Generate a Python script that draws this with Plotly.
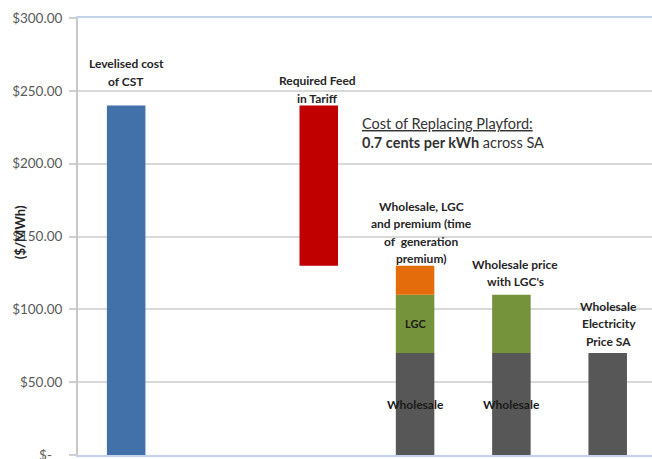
import plotly.graph_objects as go

# ---- data ($/MWh) ----
# category slots along the x axis (slot 1 is left empty as a spacer)
slot_cst = [0]
slot_fit = [2]
slot_wholesale = [3, 4, 5]
slot_lgc = [3, 4]
slot_premium = [3]

lcoe_cst = [240]
fit_low = [130]
fit_high = [240]
wholesale = [70, 70, 70]
lgc = [40, 40]
premium = [20]

tick_vals = [0, 50, 100, 150, 200, 250, 300]
tick_text = ["$-   ", "$50.00", "$100.00", "$150.00", "$200.00", "$250.00", "$300.00"]

# labels above each column (one entry per line)
top_slots = [0, 2, 3, 4, 5]
top_lines = [
    ["Levelised cost", "of CST"],
    ["Required Feed", "in Tariff"],
    ["Wholesale, LGC", "and premium (time", "of  generation", "premium)"],
    ["Wholesale price", "with LGC's"],
    ["Wholesale", "Electricity", "Price SA"],
]
top_values = [lcoe_cst[0], fit_high[0],
              wholesale[0] + lgc[0] + premium[0],
              wholesale[1] + lgc[1], wholesale[2]]
# vertical gap (px) between column top and the last label line, horizontal nudge (px)
top_gap = [24, 7, 7, 13, 12]
top_nudge = [0, -1, 6, 4, 1]
LINE_PX = 17.5

FONT = "Lato"
BAR_W = 0.4

fig = go.Figure()

fig.add_trace(go.Bar(x=slot_cst, y=lcoe_cst, width=BAR_W,
                     marker=dict(color="#4270a8", line=dict(width=0)),
                     name="Levelised cost of CST"))
fig.add_trace(go.Bar(x=slot_fit, y=[h - l for h, l in zip(fit_high, fit_low)],
                     base=fit_low, width=BAR_W,
                     marker=dict(color="#c00000", line=dict(width=0)),
                     name="Required Feed in Tariff"))
fig.add_trace(go.Bar(x=slot_wholesale, y=wholesale, width=BAR_W,
                     marker=dict(color="#575757", line=dict(width=0)),
                     name="Wholesale"))
fig.add_trace(go.Bar(x=slot_lgc, y=lgc, base=wholesale[:len(lgc)], width=BAR_W,
                     marker=dict(color="#74933a", line=dict(width=0)),
                     name="LGC"))
fig.add_trace(go.Bar(x=slot_premium, y=premium,
                     base=[w + g for w, g in zip(wholesale[:1], lgc[:1])], width=BAR_W,
                     marker=dict(color="#e46c0a", line=dict(width=0)),
                     name="Premium"))

annotations = []

# multi-line column labels
for slot, lines, val, gap, nudge in zip(top_slots, top_lines, top_values, top_gap, top_nudge):
    n = len(lines)
    for i, line in enumerate(lines):
        annotations.append(dict(
            x=slot, y=val, xref="x", yref="y", text="<b>%s</b>" % line,
            showarrow=False, xanchor="center", yanchor="middle",
            yshift=gap + (n - 1 - i) * LINE_PX, xshift=nudge,
            font=dict(family=FONT, size=12, color="#262626")))

# segment labels inside the stacked columns
annotations.append(dict(
    x=slot_lgc[0], y=wholesale[0] + lgc[0] / 2, xref="x", yref="y",
    text="<b>LGC</b>", showarrow=False,
    font=dict(family=FONT, size=11, color="#1a1a1a")))
for s, w in zip(slot_wholesale[:2], wholesale[:2]):
    annotations.append(dict(
        x=s, y=w / 2, xref="x", yref="y", text="<b>Wholesale</b>", showarrow=False,
        font=dict(family=FONT, size=12, color="#1a1a1a")))

# callout text
annotations.append(dict(
    x=2.43, y=227.5, xref="x", yref="y", xanchor="left", yanchor="middle",
    text="<u>Cost of Replacing Playford:</u>", showarrow=False,
    font=dict(family=FONT, size=14.5, color="#333333")))
annotations.append(dict(
    x=2.43, y=214.3, xref="x", yref="y", xanchor="left", yanchor="middle",
    text="<b>0.7 cents per kWh</b> across SA", showarrow=False,
    font=dict(family=FONT, size=14.5, color="#333333")))

# axis title
annotations.append(dict(
    x=-0.101, y=0.51, xref="paper", yref="paper", text="<b>($/MWh)</b>",
    textangle=-90, showarrow=False, xanchor="center", yanchor="middle",
    font=dict(family=FONT, size=13, color="#262626")))

fig.update_layout(
    width=652, height=459,
    margin=dict(l=78, r=0, t=18, b=4, autoexpand=False),
    paper_bgcolor="white", plot_bgcolor="white",
    barmode="overlay", showlegend=False,
    annotations=annotations,
    font=dict(family=FONT, size=13, color="#595959"),
)
fig.update_xaxes(range=[-0.5, 5.46], showticklabels=False, ticks="",
                 showgrid=False, zeroline=False, automargin=False,
                 showline=True, mirror=True, linecolor="#c3d4ea", linewidth=2)
fig.update_yaxes(range=[0, 300], tickvals=tick_vals, ticktext=tick_text,
                 showgrid=True, gridcolor="#d9d9d9", gridwidth=2,
                 zeroline=False, showline=True, linecolor="#c8c8c8", linewidth=2,
                 ticks="outside", ticklen=7, tickcolor="#d0d0d0", tickwidth=2,
                 ticklabelstandoff=4, ticklabeloverflow="allow", automargin=False,
                 tickfont=dict(family=FONT, size=13.5, color="#595959"))

fig.write_html("out.html")
